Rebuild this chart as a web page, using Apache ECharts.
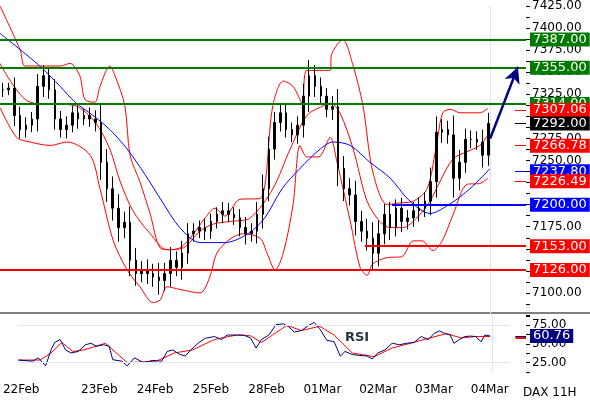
<!DOCTYPE html>
<html><head><meta charset="utf-8">
<script src="https://cdn.jsdelivr.net/npm/echarts@6/dist/echarts.min.js"></script>
<style>html,body{margin:0;padding:0;background:#fff}#c{width:590px;height:400px}</style>
</head><body><div id="c"></div>
<script>
const dayLabels = ['22Feb','23Feb','24Feb','25Feb','28Feb','01Mar','02Mar','03Mar','04Mar'];
const dayIdx = [0,14,24,34,44,54,64,74,84];
const closes = [7330,7332,7301,7285,7290,7297,7334,7346,7330,7297,
7285,7290,7304,7297,7301,7297,7293,7248,7218,7196,
7174,7180,7137,7122,7126,7122,7118,7114,7122,7137,
7129,7145,7167,7170,7174,7170,7181,7189,7193,7189,
7185,7174,7167,7170,7189,7218,7263,7293,7304,7285,
7279,7290,7323,7346,7334,7323,7308,7311,7241,7218,
7211,7181,7170,7162,7145,7167,7189,7174,7196,7181,
7185,7193,7196,7204,7226,7282,7285,7279,7230,7248,
7274,7274,7271,7256,7292];
const wick = [8,6,12,10,9,8,14,12,10,12, 9,10,8,11,7,9,10,20,15,14, 16,12,18,14,10,12,11,16,12,15,
10,14,12,9,8,10,9,8,10,9, 8,10,12,9,14,16,14,12,10,9, 8,10,14,18,12,10,9,12,20,14,
12,16,12,14,18,15,12,14,10,12, 9,10,12,10,16,18,12,10,22,14, 12,10,9,14,12];
const upperBand = [[-0.5,7425],[3,7375],[3.8,7357],[6.4,7357],[9.9,7357],[11.6,7360],[13.3,7346],[14.2,7319],[15.9,7316],[16.8,7334],[18.5,7357],[19.4,7346],[21.1,7312],[22,7256],[23.7,7226],[25.5,7189],[27.2,7151],[28.9,7149],[30.6,7151],[32.4,7162],[35,7185],[36.7,7196],[38.4,7187],[41,7206],[44.5,7207],[46.7,7312],[48.5,7340],[50.2,7334],[51.8,7315],[52.6,7352],[56.6,7352],[56.9,7371],[58.8,7387],[60.6,7357],[62.3,7312],[64,7237],[66.5,7200],[68.7,7202],[71,7204],[73.4,7218],[75.1,7271],[76.1,7304],[77.4,7308],[79.1,7304],[82.5,7304],[83.9,7309]];
const midBand = [[-0.5,7360],[4.7,7316],[12.5,7312],[16,7293],[18.5,7263],[20.3,7226],[22.5,7193],[25.5,7167],[28.4,7149],[31.2,7151],[34.1,7170],[36.4,7178],[39.3,7181],[42.8,7185],[46.7,7218],[49.7,7263],[52.6,7301],[55.4,7312],[56.6,7315],[58.3,7304],[60.6,7263],[63,7204],[65.2,7181],[67,7174],[69.2,7174],[71.6,7185],[73.9,7204],[75.6,7226],[77.9,7252],[80.3,7260],[82.5,7267],[83.9,7279]];
const lowerBand = [[-0.5,7310],[2.4,7276],[4.7,7271],[8.2,7267],[11.1,7271],[15.1,7256],[16.8,7218],[19.1,7159],[21.5,7126],[23.7,7107],[26,7089],[27.2,7092],[28.4,7107],[30.6,7104],[34.1,7100],[35.8,7118],[37,7145],[39.3,7161],[41.5,7167],[44.5,7162],[45.7,7145],[47.1,7126],[48.5,7145],[50.2,7200],[51.4,7267],[52.6,7254],[54.6,7254],[56.6,7276],[57.8,7248],[60.1,7181],[61.8,7129],[63,7120],[64,7133],[66.5,7140],[69,7141],[71,7159],[72.5,7159],[74.4,7148],[76,7159],[77.9,7189],[80.3,7223],[82.5,7224],[83.9,7230]];
const maLine = [[-0.5,7394],[6.4,7357],[9.9,7334],[12.5,7316],[15.6,7301],[18.5,7285],[21.5,7263],[24.6,7234],[27.5,7204],[30.6,7174],[34.1,7157],[38.4,7157],[42.4,7167],[45.3,7185],[48.3,7218],[51.4,7241],[54.9,7263],[57.1,7271],[60.1,7267],[63.5,7248],[67,7230],[70.4,7204],[73.9,7190],[77.4,7201],[80.8,7218],[84.3,7241]];
const rsiZx = [0,40,55,75,90,100,115,130,145,165,185,200,215,235,250,260,285,300,320,345,370,395,410,425,445,460,475,495,515,540,560,575,600,620,640,655,670,690,710,730,745,760,780,800,815,830,850,870,887,900,920,940,960,975,990,1010,1030,1050,1070,1090,1110,1130,1145,1160,1175,1190,1200,1215,1230,1245,1260,1275,1285,1300];
const rsiVal = [28.5,27,31.5,20.7,42,52,56,42,38,40,49,51,47,49,47,29,27,20.7,31.5,25,28,27,40,42,36,34,42,51,57.6,60,56,62,62,62,58,44.6,56,62,76,77,73,66,68,75,79,70.6,55,53,33.7,40,36,34.6,34,30,38,42,51,49,51,52,60,56,64,67.6,64,62,51,56,60,60.6,60,53,62,60.76];
const sigZx = [0,60,90,120,150,180,240,300,380,430,480,540,600,640,670,700,740,780,830,870,920,980,1030,1080,1130,1180,1220,1260,1300];
const sigVal = [28.5,28.5,38,52,40,42,51,25,27,38,42,56,62,61,52,62,75,68,73.7,62,38,33,44.6,51,57.6,64,58,60,60];
const levels = [
 {v:7387,c:'#007a00',from:-0.5},{v:7355,c:'#007a00',from:-0.5},{v:7314,c:'#007a00',from:-0.5},
 {v:7126,c:'#ff0000',from:-0.5},{v:7153,c:'#ff0000',from:62.6},{v:7200,c:'#0000ff',from:67.3}];
const stubs = [{v:7307.06,c:'#ff0000'},{v:7292,c:'#000000'},{v:7266.78,c:'#ff0000'},{v:7237.80,c:'#0000ff'},{v:7226.49,c:'#ff0000'}];

const N = 91;
const cats = Array.from({length:N},(_,i)=>String(i));
const ohlc = closes.map((c,i)=>{const o=i?closes[i-1]:c;return [o,c,Math.min(o,c)-wick[i],Math.max(o,c)+wick[i]];});
const toIdx = zx => zx/15.37-0.5;
const rsi = rsiZx.map((z,i)=>[toIdx(z),rsiVal[i]]);
const sig = sigZx.map((z,i)=>[toIdx(z),sigVal[i]]);
const F = 'DejaVu Sans';
const badge = (c)=>({show:true,position:'end',distance:4,formatter:p=>p.value.toFixed(2),color:'#fff',backgroundColor:c,padding:[1,3,0,3],fontFamily:F,fontSize:13});
const ls = (c,w)=>({color:c,width:w,type:'solid'});
const lvlLines = levels.map(l=>[{coord:[l.from,l.v],lineStyle:ls(l.c,2),label:badge(l.c),value:l.v},{coord:[90.5,l.v]}]);
const stubLines = stubs.map(s=>[{coord:[88.6,s.v],lineStyle:ls(s.c,1),label:badge(s.c),value:s.v},{coord:[90.5,s.v]}]);
const noLbl = {show:false};
// tick row below the RSI panel (drawn just under the RSI axis minimum)
const tickLines = closes.map((_,i)=>[{coord:[i,12.5],lineStyle:ls('#000',1),label:noLbl},{coord:[i,5]}]);

const chart = echarts.init(document.getElementById('c'));
chart.setOption({
 animation:false,
 grid:[{left:0,right:64,top:2,height:313},{left:0,right:64,top:316,height:56}],
 xAxis:[
  {type:'category',gridIndex:0,data:cats,show:false,boundaryGap:true},
  {type:'value',gridIndex:0,min:-0.5,max:90.5,show:false},
  {type:'category',gridIndex:1,data:cats,boundaryGap:true,axisLine:{show:false},axisTick:{show:false},splitLine:{show:false},
   axisLabel:{show:true,interval:0,formatter:(v)=>dayLabels[dayIdx.indexOf(+v)]||'',color:'#000',fontFamily:F,fontSize:12,margin:12}},
  {type:'value',gridIndex:1,min:-0.5,max:90.5,show:false}],
 yAxis:[
  {type:'value',gridIndex:0,position:'right',min:7075,max:7425,interval:25,splitLine:{show:false},axisLine:{show:false,onZero:false},
   axisTick:{show:true,length:4,lineStyle:{color:'#000'}},minorTick:{show:true,splitNumber:2,length:4,lineStyle:{color:'#000'}},
   axisLabel:{formatter:v=>v<7100?'':v.toFixed(2),color:'#000',fontFamily:F,fontSize:12,margin:6}},
  {type:'value',gridIndex:1,position:'right',min:12.5,max:87.5,interval:12.5,splitLine:{show:false},axisLine:{show:false,onZero:false},
   axisTick:{show:true,length:4,lineStyle:{color:'#000'}},
   axisLabel:{formatter:v=>(v%25===0&&v>0)?v.toFixed(2):'',color:'#000',fontFamily:F,fontSize:12,margin:6}}],
 graphic:[
  {type:'line',shape:{x1:0,y1:313,x2:590,y2:313},style:{stroke:'#000',lineWidth:1}},
  {type:'text',left:345,top:331,style:{text:'RSI',font:'bold 13px "DejaVu Sans"',fill:'#2a3440'}},
  {type:'text',left:523,top:387,style:{text:'DAX 11H',font:'12px "DejaVu Sans"',fill:'#000'}}],
 series:[
  {type:'line',xAxisIndex:2,yAxisIndex:1,data:[],silent:true},
  {type:'line',xAxisIndex:3,yAxisIndex:1,data:[[0,50]],showSymbol:false,lineStyle:{opacity:0},clip:false,silent:true,
   markLine:{silent:true,symbol:'none',data:tickLines}},
  {type:'line',xAxisIndex:1,yAxisIndex:0,data:[],silent:true,
   markLine:{silent:true,symbol:'none',data:[[{coord:[84.4,7075],lineStyle:ls('#dde6ee',1),label:noLbl},{coord:[84.4,7425]}]]}},
  {type:'line',xAxisIndex:1,yAxisIndex:0,data:upperBand,showSymbol:false,smooth:0.3,lineStyle:{color:'#ff0000',width:1}},
  {type:'line',xAxisIndex:1,yAxisIndex:0,data:midBand,showSymbol:false,smooth:0.3,lineStyle:{color:'#ff0000',width:1}},
  {type:'line',xAxisIndex:1,yAxisIndex:0,data:lowerBand,showSymbol:false,smooth:0.3,lineStyle:{color:'#ff0000',width:1}},
  {type:'line',xAxisIndex:1,yAxisIndex:0,data:maLine,showSymbol:false,smooth:0.3,lineStyle:{color:'#0000ff',width:1}},
  {type:'candlestick',xAxisIndex:0,yAxisIndex:0,data:ohlc,barWidth:2,z:3,
   itemStyle:{color:'#000',color0:'#000',borderColor:'#000',borderColor0:'#000',borderWidth:1}},
  {type:'line',xAxisIndex:1,yAxisIndex:0,data:[],
   markLine:{silent:true,symbol:'none',data:lvlLines.concat(stubLines)}},
  {type:'line',xAxisIndex:1,yAxisIndex:0,data:[],
   markLine:{silent:true,symbol:['none','arrow'],symbolSize:[12,16],data:[[{coord:[84.3,7275],lineStyle:ls('#000080',2.5),label:noLbl},{coord:[89.1,7356]}]]}},
  {type:'line',xAxisIndex:3,yAxisIndex:1,data:sig,showSymbol:false,lineStyle:{color:'#ff0000',width:1},
   markLine:{silent:true,symbol:'none',data:[
    [{coord:[-0.5,75],lineStyle:ls('#dde6ee',1),label:noLbl},{coord:[87.5,75]}],
    [{coord:[-0.5,25],lineStyle:ls('#dde6ee',1),label:noLbl},{coord:[87.5,25]}],
    [{coord:[84.4,12.5],lineStyle:ls('#dde6ee',1),label:noLbl},{coord:[84.4,87.5]}],
    [{coord:[88.6,59],lineStyle:ls('#ff0000',2),label:noLbl},{coord:[90.5,59]}],
    [{coord:[88.6,60.76],lineStyle:ls('#000080',1),label:badge('#000080'),value:60.76},{coord:[90.5,60.76]}]]}},
  {type:'line',xAxisIndex:3,yAxisIndex:1,data:rsi,showSymbol:false,lineStyle:{color:'#000080',width:1}}
 ]
});
</script></body></html>
